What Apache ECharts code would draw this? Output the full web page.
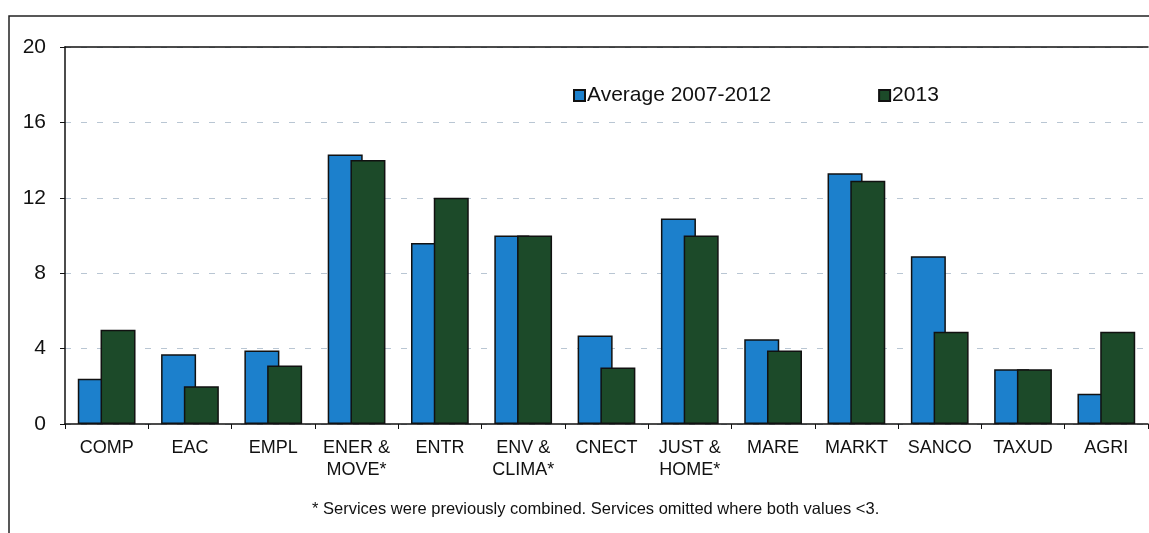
<!DOCTYPE html>
<html>
<head>
<meta charset="utf-8">
<script src="https://cdn.jsdelivr.net/npm/echarts@6/dist/echarts.min.js"></script>
<style>
  html, body { margin: 0; padding: 0; background: #fff; }
  #chart { width: 1149px; height: 533px; }
</style>
</head>
<body>
<div id="chart"></div>
<script>
const categories = ['COMP', 'EAC', 'EMPL', 'ENER &\nMOVE*', 'ENTR', 'ENV &\nCLIMA*', 'CNECT',
  'JUST &\nHOME*', 'MARE', 'MARKT', 'SANCO', 'TAXUD', 'AGRI']
const average = [2.4, 3.7, 3.9, 14.3, 9.6, 10.0, 4.7, 10.9, 4.5, 13.3, 8.9, 2.9, 1.6]
const y2013 = [5.0, 2.0, 3.1, 14.0, 12.0, 10.0, 3.0, 10.0, 3.9, 12.9, 4.9, 2.9, 4.9]
const seriesNames = ['Average 2007-2012', '2013']
const footnote = '* Services were previously combined. Services omitted where both values <3.'

const font = '"Liberation Sans", Arial, sans-serif'
const chart = echarts.init(document.getElementById('chart'))

chart.setOption({
  animation: false,
  backgroundColor: '#fff',
  textStyle: { fontFamily: font },
  grid: { left: 65, right: 1, top: 47, bottom: 109 },
  legend: {
    left: 568,
    top: 80,
    icon: 'rect',
    itemWidth: 11,
    itemHeight: 11,
    itemGap: 107,
    data: seriesNames,
    textStyle: { fontSize: 21, color: '#111', fontFamily: font, padding: [0, 0, 0, -3] }
  },
  xAxis: [
    {
      type: 'category',
      data: categories,
      axisLine: { lineStyle: { color: '#111', width: 1.5 } },
      axisTick: { show: true, length: 5, lineStyle: { color: '#111' } },
      axisLabel: { fontSize: 18, color: '#111', margin: 13, lineHeight: 22, interval: 0 }
    },
    {
      type: 'category',
      position: 'top',
      data: categories,
      axisLine: { show: true, lineStyle: { color: '#111', width: 1.5 } },
      axisTick: { show: false },
      axisLabel: { show: false }
    }
  ],
  yAxis: {
    type: 'value',
    min: 0,
    max: 20,
    interval: 4,
    axisLine: { show: true, lineStyle: { color: '#111', width: 1.5 } },
    axisTick: { show: true, length: 5, lineStyle: { color: '#111' } },
    axisLabel: { fontSize: 21, color: '#111', margin: 19 },
    splitLine: { lineStyle: { color: '#b9c6d3', type: [6, 10] } }
  },
  series: [
    {
      name: seriesNames[0],
      type: 'bar',
      data: average,
      barWidth: 35,
      barGap: '-35%',
      itemStyle: { color: '#1c80cc', borderColor: '#111', borderWidth: 1.5 }
    },
    {
      name: seriesNames[1],
      type: 'bar',
      data: y2013,
      barWidth: 35,
      barGap: '-35%',
      itemStyle: { color: '#1c4a29', borderColor: '#111', borderWidth: 1.5 }
    }
  ],
  graphic: [
    {
      type: 'rect',
      shape: { x: 9, y: 16, width: 1160, height: 540 },
      style: { fill: 'none', stroke: '#222', lineWidth: 1.5 },
      silent: true
    },
    {
      type: 'text',
      left: 312,
      top: 501,
      style: { text: footnote, fontSize: 16.5, fill: '#111', fontFamily: font }
    }
  ]
})
</script>
</body>
</html>
